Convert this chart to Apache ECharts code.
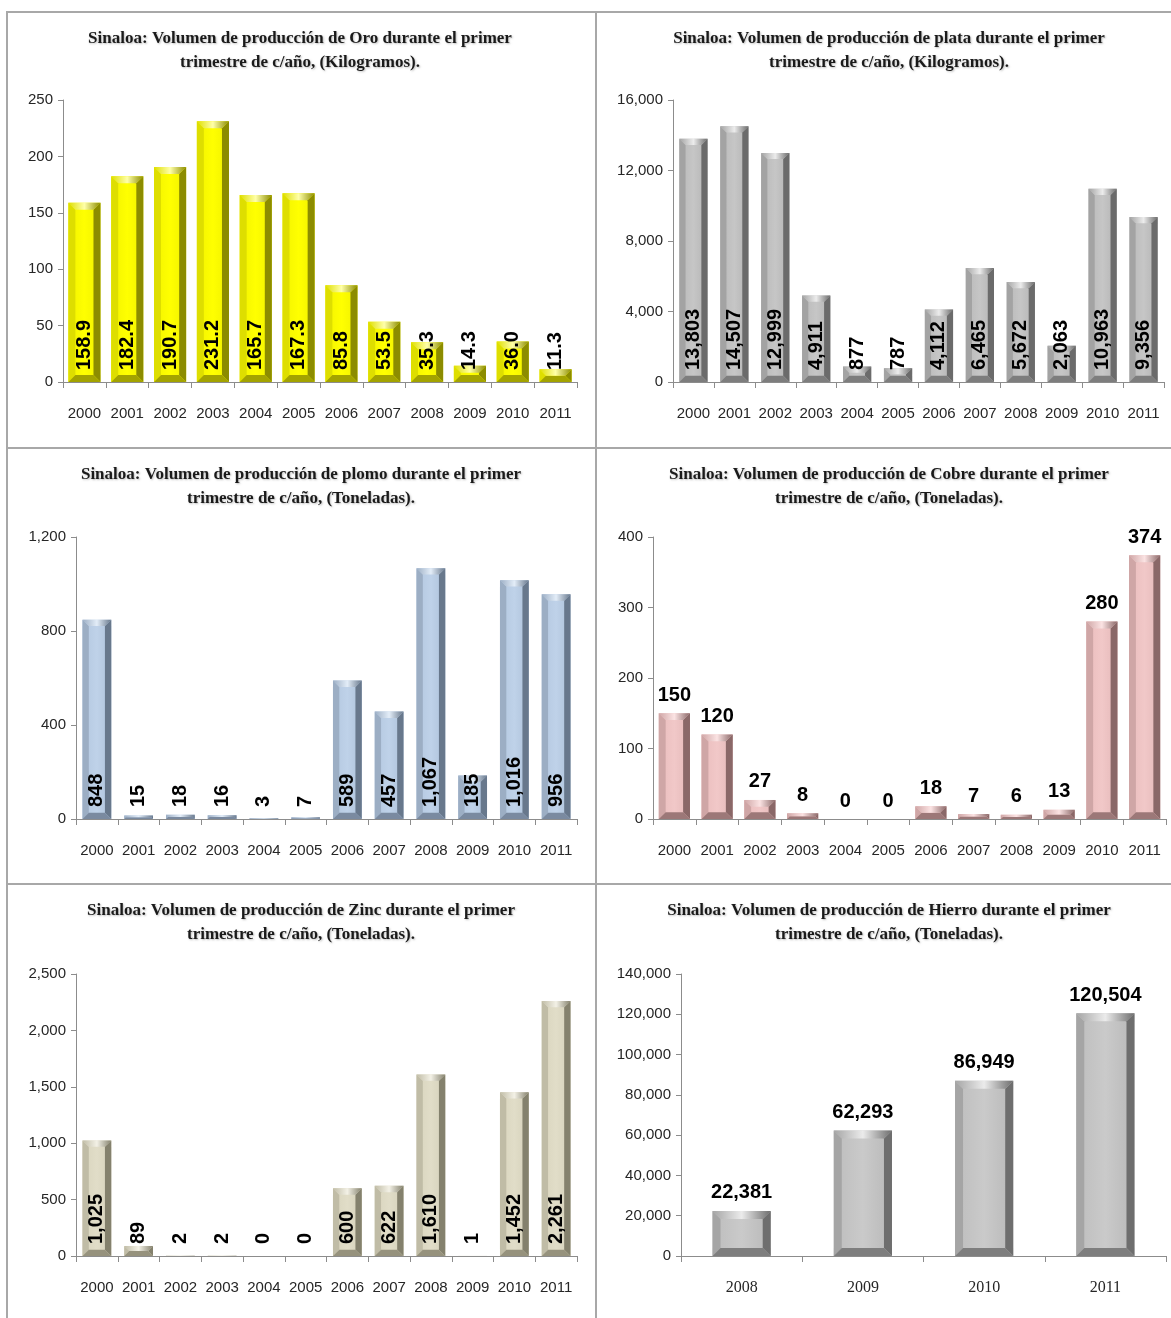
<!DOCTYPE html>
<html>
<head>
<meta charset="utf-8">
<script src="https://cdn.jsdelivr.net/npm/echarts@6/dist/echarts.min.js"></script>
<style>
  html, body { margin: 0; padding: 0; background: #ffffff; }
  #wrap { position: relative; width: 1171px; height: 1318px; overflow: hidden; background: #fff; }
  .panel { position: absolute; }
  .ln { position: absolute; background: #a8a8a8; }
</style>
</head>
<body>
<div id="wrap">
  <div class="ln" style="left:7px;top:11px;width:1164px;height:2px;"></div>
  <div class="ln" style="left:6px;top:11px;width:2px;height:1307px;"></div>
  <div class="ln" style="left:595px;top:11px;width:2px;height:1307px;"></div>
  <div class="ln" style="left:7px;top:447px;width:1164px;height:2px;"></div>
  <div class="ln" style="left:7px;top:883px;width:1164px;height:2px;"></div>
  <div class="panel" id="p1" style="left:8px;top:13px;width:587px;height:434px;"></div>
  <div class="panel" id="p2" style="left:597px;top:13px;width:574px;height:434px;"></div>
  <div class="panel" id="p3" style="left:8px;top:449px;width:587px;height:434px;"></div>
  <div class="panel" id="p4" style="left:597px;top:449px;width:574px;height:434px;"></div>
  <div class="panel" id="p5" style="left:8px;top:885px;width:587px;height:433px;"></div>
  <div class="panel" id="p6" style="left:597px;top:885px;width:574px;height:433px;"></div>
</div>
<script>
// ---- Data ----
const years = ['2000','2001','2002','2003','2004','2005','2006','2007','2008','2009','2010','2011'];
const oro = [158.9, 182.4, 190.7, 231.2, 165.7, 167.3, 85.8, 53.5, 35.3, 14.3, 36.0, 11.3];
const plata = [13803, 14507, 12999, 4911, 877, 787, 4112, 6465, 5672, 2063, 10963, 9356];
const plomo = [848, 15, 18, 16, 3, 7, 589, 457, 1067, 185, 1016, 956];
const cobre = [150, 120, 27, 8, 0, 0, 18, 7, 6, 13, 280, 374];
const zinc = [1025, 89, 2, 2, 0, 0, 600, 622, 1610, 1, 1452, 2261];
const hierroYears = ['2008','2009','2010','2011'];
const hierro = [22381, 62293, 86949, 120504];

const titles = {
  oro: 'Sinaloa: Volumen de producción de Oro durante el primer\ntrimestre de c/año, (Kilogramos).',
  plata: 'Sinaloa: Volumen de producción de plata durante el primer\ntrimestre de c/año, (Kilogramos).',
  plomo: 'Sinaloa: Volumen de producción de plomo durante el primer\ntrimestre de c/año, (Toneladas).',
  cobre: 'Sinaloa: Volumen de producción de Cobre durante el primer\ntrimestre de c/año, (Toneladas).',
  zinc: 'Sinaloa: Volumen de producción de Zinc durante el primer\ntrimestre de c/año, (Toneladas).',
  hierro: 'Sinaloa: Volumen de producción de Hierro durante el primer\ntrimestre de c/año, (Toneladas).'
};

function fmtInt(v) { return Math.round(v).toLocaleString('en-US'); }

function hGrad(stops) {
  return new echarts.graphic.LinearGradient(0, 0, 1, 0, stops.map(function (s) { return { offset: s[0], color: s[1] }; }));
}

// Bevelled bar drawn through the chart's own scales
function bevelRender(pal, gapFrac, depth) {
  return function (params, api) {
    const i = api.value(0);
    const v = api.value(1);
    if (!v) return null;
    const topPt = api.coord([i, v]);
    const basePt = api.coord([i, 0]);
    const bw = api.size([1, 0])[0] * (1 - gapFrac);
    const x0 = topPt[0] - bw / 2, x1 = topPt[0] + bw / 2;
    const y0 = topPt[1], y1 = basePt[1];
    const h = y1 - y0;
    const d = Math.max(0, Math.min(depth, bw * 0.22, h / 2));
    return {
      type: 'group',
      children: [
        { type: 'rect', shape: { x: x0, y: y0, width: bw, height: h },
          style: { fill: hGrad([[0, pal.faceL], [0.5, pal.face], [1, pal.faceR]]) } },
        { type: 'polygon', shape: { points: [[x0, y0], [x0 + d, y0 + d], [x0 + d, y1 - d], [x0, y1]] },
          style: { fill: pal.left } },
        { type: 'polygon', shape: { points: [[x1, y0], [x1, y1], [x1 - d, y1 - d], [x1 - d, y0 + d]] },
          style: { fill: pal.right } },
        { type: 'polygon', shape: { points: [[x0, y1], [x0 + d, y1 - d], [x1 - d, y1 - d], [x1, y1]] },
          style: { fill: pal.bottom } },
        { type: 'polygon', shape: { points: [[x0, y0], [x1, y0], [x1 - d, y0 + d], [x0 + d, y0 + d]] },
          style: { fill: hGrad([[0, pal.left], [0.5, pal.top], [1, pal.right]]) } }
      ]
    };
  };
}

function makePanel(id, cfg) {
  const chart = echarts.init(document.getElementById(id), null, { renderer: 'canvas' });
  const rotated = cfg.labelMode === 'rot';
  const gapFrac = parseFloat(cfg.gap) / 100;
  const option = {
    animation: false,
    title: {
      text: cfg.title,
      left: cfg.titleX,
      top: 14,
      textAlign: 'center',
      padding: 0,
      textStyle: {
        fontFamily: '"Liberation Serif", "Times New Roman", serif',
        fontWeight: 'bold',
        fontSize: 17,
        lineHeight: 24,
        color: '#1a1a1a',
        textShadowColor: 'rgba(0,0,0,0.25)',
        textShadowBlur: 2,
        textShadowOffsetX: 1,
        textShadowOffsetY: 1
      }
    },
    grid: { left: cfg.grid[0], top: cfg.grid[1], width: cfg.grid[2], height: cfg.grid[3], containLabel: false },
    xAxis: {
      type: 'category',
      data: cfg.cats,
      axisLine: { lineStyle: { color: '#8c8c8c', width: 1 } },
      axisTick: { show: true, length: 6, lineStyle: { color: '#8c8c8c' } },
      axisLabel: {
        interval: 0,
        hideOverlap: false,
        margin: 24,
        fontFamily: cfg.xSerif ? '"Liberation Serif", "Times New Roman", serif' : '"Liberation Sans", Arial, sans-serif',
        fontSize: cfg.xFont || 15,
        color: '#262626'
      }
    },
    yAxis: {
      type: 'value',
      min: 0,
      max: cfg.max,
      interval: cfg.interval,
      splitLine: { show: false },
      axisLine: { show: true, lineStyle: { color: '#8c8c8c', width: 1 } },
      axisTick: { show: true, length: 5, lineStyle: { color: '#8c8c8c' } },
      axisLabel: {
        margin: 10,
        fontFamily: '"Liberation Sans", Arial, sans-serif',
        fontSize: 15,
        color: '#262626',
        formatter: function (v) { return fmtInt(v); }
      }
    },
    series: [{
      type: 'custom',
      z: 1,
      renderItem: bevelRender(cfg.pal, gapFrac, cfg.depth || 7),
      data: cfg.data.map(function (v, i) { return [i, v]; }),
      encode: { x: 0, y: 1 }
    }, {
      type: 'bar',
      z: 3,
      data: cfg.data,
      barCategoryGap: cfg.gap,
      itemStyle: { color: 'rgba(0,0,0,0)' },
      label: rotated ? {
        show: true,
        position: 'insideBottom',
        rotate: 90,
        align: 'left',
        verticalAlign: 'middle',
        distance: 12,
        fontFamily: '"Liberation Sans", Arial, sans-serif',
        fontWeight: 'bold',
        fontSize: 20,
        color: '#000',
        formatter: function (p) { return cfg.fmt(p.value); }
      } : {
        show: true,
        position: 'top',
        distance: 8,
        fontFamily: '"Liberation Sans Narrow", "Liberation Sans", Arial, sans-serif',
        fontWeight: 'bold',
        fontSize: 20,
        color: '#000',
        formatter: function (p) { return cfg.fmt(p.value); }
      }
    }]
  };
  chart.setOption(option);
}

makePanel('p1', {
  title: titles.oro, titleX: 292, grid: [55, 87, 514, 282], cats: years, data: oro,
  max: 250, interval: 50, gap: '25%', labelMode: 'rot',
  fmt: function (v) { return v.toFixed(1); },
  pal: { faceL: '#f2f200', face: '#ffff00', faceR: '#f0f000', top: '#ffffa8', left: '#dede00', right: '#8c8c00', bottom: '#a3a300' }
});
makePanel('p2', {
  title: titles.plata, titleX: 292, grid: [76, 87, 491, 282], cats: years, data: plata,
  max: 16000, interval: 4000, gap: '31%', labelMode: 'rot', fmt: fmtInt,
  pal: { faceL: '#b8b8b8', face: '#c6c6c6', faceR: '#b3b3b3', top: '#ececec', left: '#a3a3a3', right: '#6b6b6b', bottom: '#7d7d7d' }
});
makePanel('p3', {
  title: titles.plomo, titleX: 293, grid: [68, 88, 501, 282], cats: years, data: plomo,
  max: 1200, interval: 400, gap: '31%', labelMode: 'rot', fmt: fmtInt,
  pal: { faceL: '#b3c7df', face: '#bfd2e9', faceR: '#adc1d9', top: '#e3edf8', left: '#9caec4', right: '#68788c', bottom: '#7a8aa0' }
});
makePanel('p4', {
  title: titles.cobre, titleX: 292, grid: [56, 88, 513, 282], cats: years, data: cobre,
  max: 400, interval: 100, gap: '27%', labelMode: 'top', fmt: fmtInt,
  pal: { faceL: '#e9bcbc', face: '#f1c8c8', faceR: '#e4b8b8', top: '#fbe3e3', left: '#cfa6a6', right: '#8a6868', bottom: '#9c7878' }
});
makePanel('p5', {
  title: titles.zinc, titleX: 293, grid: [68, 89, 501, 282], cats: years, data: zinc,
  max: 2500, interval: 500, gap: '31%', labelMode: 'rot', fmt: fmtInt,
  pal: { faceL: '#d8d4bd', face: '#e1ddc8', faceR: '#d4d0b9', top: '#f3f1e6', left: '#c0bca6', right: '#84816d', bottom: '#96927d' }
});
makePanel('p6', {
  title: titles.hierro, titleX: 292, grid: [84, 89, 485, 282], cats: hierroYears, data: hierro,
  max: 140000, interval: 20000, gap: '52%', labelMode: 'top', fmt: fmtInt,
  xSerif: true, xFont: 16, depth: 8,
  pal: { faceL: '#bdbdbd', face: '#cacaca', faceR: '#b8b8b8', top: '#ebebeb', left: '#a5a5a5', right: '#6e6e6e', bottom: '#7e7e7e' }
});
</script>
</body>
</html>
